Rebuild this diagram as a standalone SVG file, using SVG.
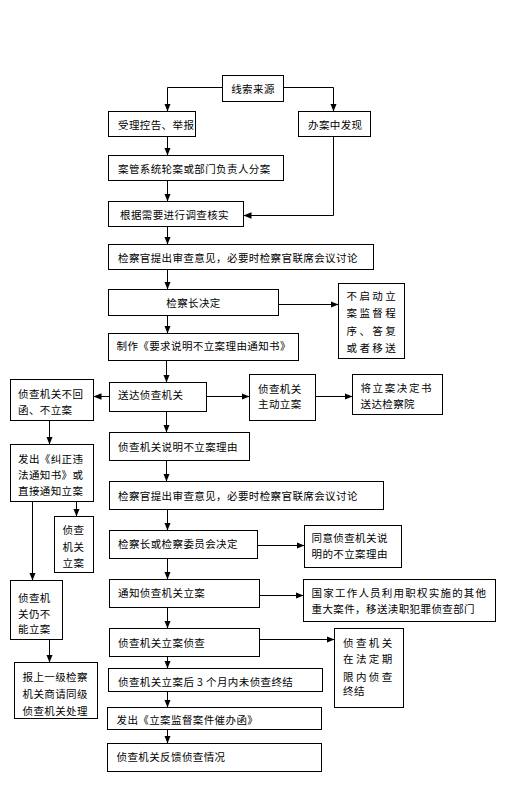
<svg xmlns="http://www.w3.org/2000/svg" width="508" height="808" viewBox="0 0 508 808">
<style>
rect{fill:#fff;stroke:#000;stroke-width:1}
text{font-family:"Noto Sans CJK SC","Liberation Sans",sans-serif;font-size:10.5px;letter-spacing:0.4px;fill:#000;dominant-baseline:central}
.w{letter-spacing:1.6px}
.ww{letter-spacing:2.4px}
#conn path{fill:none;stroke:#000;stroke-width:1;marker-end:url(#ah)}
</style>
<defs>
<marker id="ah" markerUnits="userSpaceOnUse" markerWidth="8" markerHeight="8" viewBox="0 0 8 8" refX="8" refY="4" orient="auto">
<path d="M0,0.8 L8,4 L0,7.2 Z" fill="#000"/>
</marker>
</defs>
<rect x="0" y="0" width="508" height="808" style="stroke:none"/>
<g id="conn">
<path d="M222.5,87.5 H167.5 V111.5"/>
<path d="M283.5,87.5 H333.5 V111.5"/>
<path d="M167.5,136.5 V155.5"/>
<path d="M167.5,180.5 V201.5"/>
<path d="M333.5,136.5 V215.5 H243.5"/>
<path d="M167.5,226.5 V244.5"/>
<path d="M167.5,269.5 V289.5"/>
<path d="M278.5,304.5 H338.5"/>
<path d="M167.5,315.5 V333.5"/>
<path d="M166.5,360.5 V382.5"/>
<path d="M109.5,396.5 H93.5"/>
<path d="M206.5,396.5 H249.5"/>
<path d="M315.5,396.5 H352.5"/>
<path d="M166.5,411.5 V432.5"/>
<path d="M166.5,460.5 V481.5"/>
<path d="M167.5,509.5 V530.5"/>
<path d="M257.5,545.5 H304.5"/>
<path d="M167.5,558.5 V579.5"/>
<path d="M259.5,595.5 H303.5"/>
<path d="M167.5,607.5 V628.5"/>
<path d="M259.5,639.5 H334.5"/>
<path d="M167.5,656.5 V668.5"/>
<path d="M167.5,691.5 V707.5"/>
<path d="M167.5,729.5 V743.5"/>
<path d="M49.5,420.5 V444.5"/>
<path d="M32.5,501.5 V580.5"/>
<path d="M76.5,501.5 V516.5"/>
<path d="M49.5,639.5 V662.5"/>
</g>
<g id="n1"><rect x="222.5" y="75.5" width="61" height="26"/><text x="253" y="88" text-anchor="middle">线索来源</text></g>
<g id="n2"><rect x="108.5" y="111.5" width="87" height="25"/><text x="118" y="124">受理控告、举报</text></g>
<g id="n3"><rect x="298.5" y="111.5" width="72" height="25"/><text x="308" y="124">办案中发现</text></g>
<g id="n4"><rect x="108.5" y="155.5" width="175" height="25"/><text x="118" y="168">案管系统轮案或部门负责人分案</text></g>
<g id="n5"><rect x="108.5" y="201.5" width="135" height="25"/><text x="120" y="214">根据需要进行调查核实</text></g>
<g id="n6"><rect x="108.5" y="244.5" width="265" height="25"/><text x="118" y="257">检察官提出审查意见，必要时检察官联席会议讨论</text></g>
<g id="n7"><rect x="108.5" y="289.5" width="170" height="26"/><text x="193.5" y="302" text-anchor="middle">检察长决定</text></g>
<g id="n8"><rect x="338.5" y="283.5" width="66" height="75"/><text class="ww" x="346.5" y="295">不启动立</text><text class="ww" x="346.5" y="312.5">案监督程</text><text class="ww" x="346.5" y="330">序、答复</text><text class="ww" x="346.5" y="347.5">或者移送</text></g>
<g id="n9"><rect x="108.5" y="333.5" width="190" height="27"/><text x="116.5" y="345.5">制作《要求说明不立案理由通知书》</text></g>
<g id="n10"><rect x="109.5" y="382.5" width="97" height="29"/><text x="118" y="394">送达侦查机关</text></g>
<g id="n11"><rect x="10.5" y="379.5" width="83" height="41"/><text x="18" y="393.5">侦查机关不回</text><text x="18" y="409.5">函、不立案</text></g>
<g id="n12"><rect x="249.5" y="374.5" width="66" height="46"/><text x="258" y="388">侦查机关</text><text x="258" y="403.5">主动立案</text></g>
<g id="n13"><rect x="352.5" y="374.5" width="90" height="40"/><text class="w" x="360.5" y="387">将立案决定书</text><text x="360.5" y="403.5">送达检察院</text></g>
<g id="n14"><rect x="109.5" y="432.5" width="140" height="28"/><text x="118" y="446">侦查机关说明不立案理由</text></g>
<g id="n15"><rect x="10.5" y="444.5" width="83" height="57"/><text x="18" y="458.5">发出《纠正违</text><text x="18" y="474.5">法通知书》或</text><text x="18" y="490">直接通知立案</text></g>
<g id="n16"><rect x="109.5" y="481.5" width="274" height="28"/><text x="118" y="495">检察官提出审查意见，必要时检察官联席会议讨论</text></g>
<g id="n17"><rect x="54.5" y="516.5" width="39" height="56"/><text x="62.5" y="529.5">侦查</text><text x="62.5" y="546">机关</text><text x="62.5" y="562">立案</text></g>
<g id="n18"><rect x="109.5" y="530.5" width="148" height="28"/><text x="118" y="543.5">检察长或检察委员会决定</text></g>
<g id="n19"><rect x="304.5" y="525.5" width="97" height="42"/><text x="311.5" y="537">同意侦查机关说</text><text x="311.5" y="553.5">明的不立案理由</text></g>
<g id="n20"><rect x="10.5" y="580.5" width="52" height="59"/><text x="18" y="597">侦查机</text><text x="18" y="613">关仍不</text><text x="18" y="628.5">能立案</text></g>
<g id="n21"><rect x="109.5" y="579.5" width="150" height="28"/><text x="118" y="592">通知侦查机关立案</text></g>
<g id="n22"><rect x="303.5" y="579.5" width="192" height="42"/><text x="311.5" y="592" textLength="175" lengthAdjust="spacing">国家工作人员利用职权实施的其他</text><text x="311.5" y="608.5">重大案件，移送渎职犯罪侦查部门</text></g>
<g id="n23"><rect x="109.5" y="628.5" width="150" height="28"/><text x="118" y="642">侦查机关立案侦查</text></g>
<g id="n24"><rect x="334.5" y="628.5" width="69" height="79"/><text class="ww" x="343" y="642">侦查机关</text><text class="ww" x="343" y="658.5">在法定期</text><text class="ww" x="343" y="676">限内侦查</text><text x="343" y="690.5">终结</text></g>
<g id="n25"><rect x="14.5" y="662.5" width="83" height="56"/><text x="22.5" y="676">报上一级检察</text><text x="22.5" y="693.5">机关商请同级</text><text x="22.5" y="710">侦查机关处理</text></g>
<g id="n26"><rect x="108.5" y="668.5" width="214" height="23"/><text x="118" y="681.5">侦查机关立案后 3 个月内未侦查终结</text></g>
<g id="n27"><rect x="107.5" y="707.5" width="214" height="22"/><text x="116.5" y="719">发出《立案监督案件催办函》</text></g>
<g id="n28"><rect x="107.5" y="743.5" width="214" height="28"/><text x="116.5" y="756">侦查机关反馈侦查情况</text></g>
</svg>
